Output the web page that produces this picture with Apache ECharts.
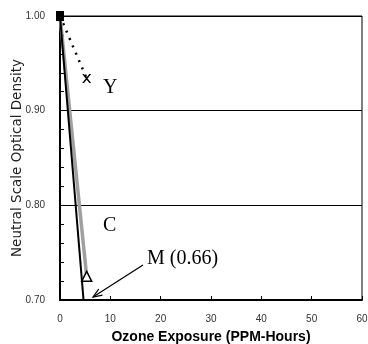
<!DOCTYPE html>
<html>
<head>
<meta charset="utf-8">
<script src="https://cdn.jsdelivr.net/npm/echarts@6/dist/echarts.min.js"></script>
<style>
  html, body { margin: 0; padding: 0; background: #fff; }
  #chart { width: 368px; height: 344px; }
</style>
</head>
<body>
<div id="chart"></div>
<script>
// exposure (PPM-hours) and neutral scale optical density per dye
const exposure = [0, 5.3];
const densityY = [1.00, 0.934];
const densityC = [1.00, 0.725];
const densityM = [1.00, 0.66];
const xTicks = [0, 10, 20, 30, 40, 50, 60];
const yTicks = [0.70, 0.80, 0.90, 1.00];

const toPairs = vals => vals.map((v, i) => [exposure[i], v]);

const xPath = 'path://M0,0 L2,0 L5,3.5 L8,0 L10,0 L6,5 L10,10 L8,10 L5,6.5 L2,10 L0,10 L4,5 Z';

const chart = echarts.init(document.getElementById('chart'));

// start point has no marker (square drawn by M), end gets the dye symbol
function styledData(vals, endSymbol, endStyle, endSize) {
  return toPairs(vals).map((p, i) => {
    if (i === 0) return { value: p, symbol: 'none' };
    return { value: p, symbol: endSymbol, symbolSize: endSize, itemStyle: endStyle };
  });
}

const yMin = yTicks[0];
const yMax = yTicks[yTicks.length - 1];

const option = {
  animation: false,
  grid: {
    left: 60, right: 6, top: 16, bottom: 44,
    outerBoundsMode: 'none',
    containLabel: false,
    show: true, borderColor: '#000', borderWidth: 1
  },
  xAxis: {
    type: 'value',
    min: xTicks[0],
    max: xTicks[xTicks.length - 1],
    interval: 10,
    name: 'Ozone Exposure (PPM-Hours)',
    nameLocation: 'middle',
    nameGap: 30,
    nameMoveOverlap: false,
    nameTextStyle: { fontFamily: 'Liberation Sans', fontSize: 14, fontWeight: 'bold', color: '#000' },
    axisLine: { lineStyle: { color: '#000', width: 2 } },
    axisTick: { inside: true, length: 4, lineStyle: { color: '#000' } },
    axisLabel: { fontFamily: 'Liberation Sans', fontSize: 10, color: '#333', margin: 14 },
    splitLine: { show: false }
  },
  yAxis: [
    {
      type: 'value',
      min: yMin,
      max: yMax,
      interval: 0.1,
      name: 'Neutral Scale Optical Density',
      nameLocation: 'middle',
      nameGap: 36,
      nameMoveOverlap: false,
      nameTextStyle: { fontFamily: 'DejaVu Sans', fontSize: 13.5, color: '#222' },
      axisLine: { show: true, lineStyle: { color: '#000', width: 2 } },
      axisTick: { inside: true, length: 4, lineStyle: { color: '#000' } },
      axisLabel: {
        fontFamily: 'Liberation Sans', fontSize: 10, color: '#333', margin: 15,
        formatter: v => v.toFixed(2)
      },
      splitLine: { show: true, lineStyle: { color: '#000', width: 1 } }
    },
    {
      // minor ticks every 0.02
      type: 'value',
      position: 'left',
      min: yMin,
      max: yMax,
      interval: 0.02,
      axisLine: { show: false },
      axisTick: { show: true, inside: true, length: 4, lineStyle: { color: '#000' } },
      axisLabel: { show: false },
      splitLine: { show: false }
    }
  ],
  series: [
    {
      name: 'Y',
      type: 'line',
      data: styledData(densityY, xPath, { color: '#000' }, 9),
      lineStyle: { color: '#000', width: 2.5, type: [2, 6] },
      itemStyle: { color: '#000' },
      z: 3
    },
    {
      name: 'C',
      type: 'line',
      data: styledData(densityC, 'triangle', { color: '#fff', borderColor: '#000', borderWidth: 1.5 }, 10),
      lineStyle: { color: '#a0a0a0', width: 3.5 },
      itemStyle: { color: '#fff', borderColor: '#000', borderWidth: 1.5 },
      z: 4
    },
    {
      name: 'M',
      type: 'line',
      data: toPairs(densityM).map((p, i) => i === 0
        ? { value: p, symbol: 'rect', symbolSize: [8, 10], itemStyle: { color: '#000' } }
        : { value: p, symbol: 'none' }),
      lineStyle: { color: '#000', width: 2 },
      clip: true,
      z: 5
    }
  ],
  graphic: [
    { type: 'text', left: 103, top: 78, style: { text: 'Y', font: '20px "Liberation Serif"', fill: '#000' } },
    { type: 'text', left: 103, top: 216, style: { text: 'C', font: '20px "Liberation Serif"', fill: '#000' } },
    { type: 'text', left: 147, top: 249, style: { text: 'M (0.66)', font: '20px "Liberation Serif"', fill: '#000' } },
    { type: 'line', shape: { x1: 143, y1: 265, x2: 93, y2: 297 }, style: { stroke: '#000', lineWidth: 1.2 } },
    { type: 'polyline', shape: { points: [[102.5, 295.1], [93, 297], [98.7, 289.2]] }, style: { stroke: '#000', fill: null, lineWidth: 1.2 } }
  ]
};

chart.setOption(option);
</script>
</body>
</html>
